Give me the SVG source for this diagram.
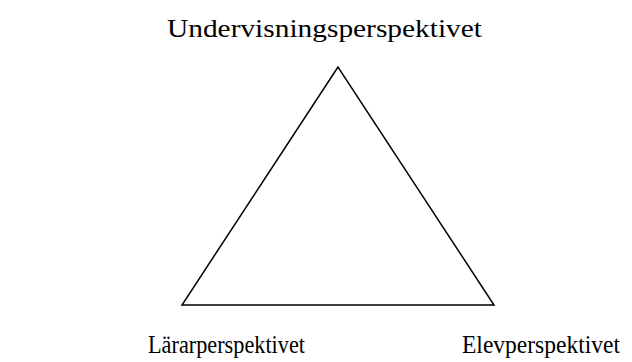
<svg xmlns="http://www.w3.org/2000/svg" width="632" height="362" viewBox="0 0 632 362">
<style>
.lbl{font-family:"Liberation Serif","Times New Roman",serif;font-size:25px;fill:#000}
.edge{fill:none;stroke:#000;stroke-width:1.5}
</style>
<rect width="632" height="362" fill="#fff"/>
<g id="connectors">
<polygon class="edge" points="338,67 182,305 494,305"/>
</g>
<g id="top"><text class="lbl" x="167" y="37" textLength="315" lengthAdjust="spacingAndGlyphs">Undervisningsperspektivet</text></g>
<g id="left"><text class="lbl" x="148" y="353" textLength="157" lengthAdjust="spacingAndGlyphs">Lärarperspektivet</text></g>
<g id="right"><text class="lbl" x="462" y="353" textLength="158" lengthAdjust="spacingAndGlyphs">Elevperspektivet</text></g>
</svg>
